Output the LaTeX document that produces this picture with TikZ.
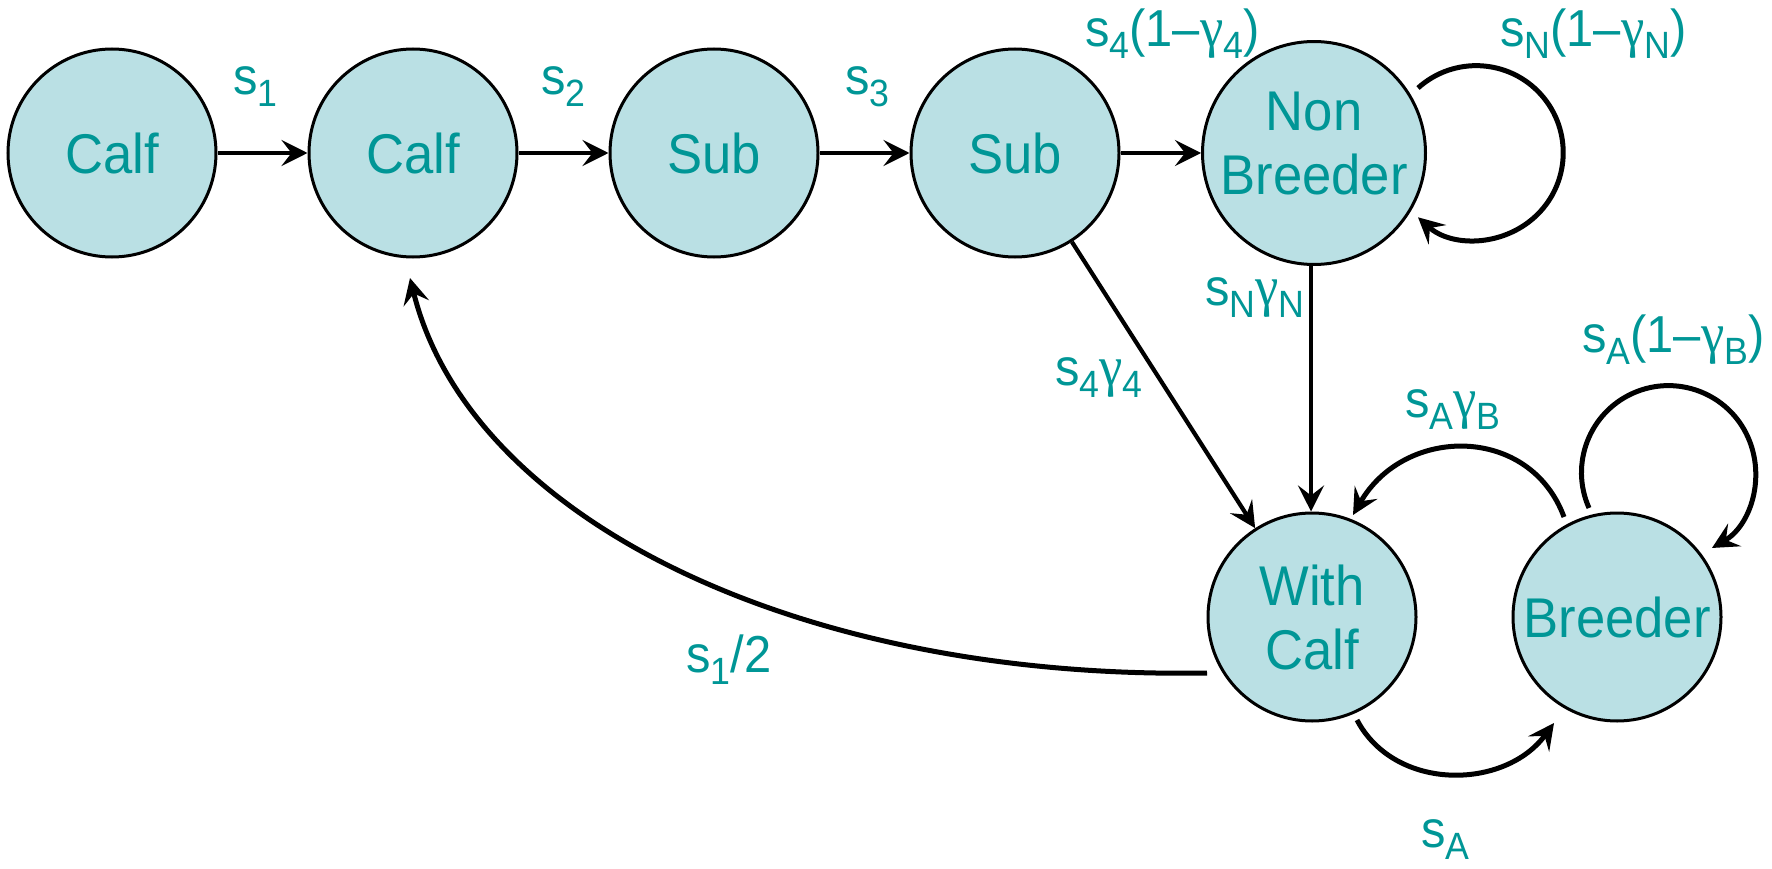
\documentclass[tikz,border=0pt]{standalone}
\usepackage{fontspec}
\setmainfont{Liberation Sans}[FakeStretch=0.94]
\newfontfamily\greekfont{Liberation Serif}[FakeStretch=0.94]
\usetikzlibrary{arrows.meta,calc}
\definecolor{cfill}{RGB}{186,224,228}
\definecolor{cteal}{RGB}{0,150,150}
% lowered, smaller index for the rate labels
\newcommand\lowsub[1]{\raisebox{-12pt}{\fontsize{38}{40}\selectfont #1}}
\newcommand\gam{{\greekfont\fontsize{56}{58}\selectfont γ}}
\begin{document}
\begin{tikzpicture}[x=1pt,y=1pt,
  stage/.style={circle, minimum size=208pt, inner sep=0pt, draw=black,
    line width=3pt, fill=cfill, text=cteal, align=center,
    font=\fontsize{56}{64}\selectfont},
  ratelabel/.style={anchor=base west, inner sep=0pt, text=cteal,
    font=\fontsize{52}{56}\selectfont},
  headtip/.style={-{Stealth[length=26pt,width=26pt,inset=10pt]}},
  flowarrow/.style={headtip, line width=4.2pt},
  curvearrow/.style={headtip, line width=5pt}]
\useasboundingbox (0,0) rectangle (1772,-869);

% life stages
\node[stage] (c1)  at (112,-153)  {Calf};
\node[stage] (c2)  at (413,-153)  {Calf};
\node[stage] (sb1) at (714,-153)  {Sub};
\node[stage] (sb2) at (1015,-153) {Sub};
\node[stage, text depth=20pt] (nb) at (1314,-153) {Non\\Breeder};
\node[stage] (wc)  at (1312,-617) {With\\Calf};
\node[stage] (br)  at (1617,-617) {Breeder};

% transitions along the top row
\draw[flowarrow] (c1) -- (c2);
\draw[flowarrow] (c2) -- (sb1);
\draw[flowarrow] (sb1) -- (sb2);
\draw[flowarrow] (sb2) -- (nb);
\draw[flowarrow] (sb2) -- (wc);
\draw[flowarrow] ($(nb.south)+(-3,0)$) -- ($(wc.north)+(-1,0)$);

% staying a non-breeder
\draw[curvearrow] ($(nb)+(104,65)$) arc[start angle=132, end angle=-132, radius=87];

% recruitment back to calves
\draw[curvearrow] ($(wc)+(-105,-56)$) .. controls (800,-680) and (470,-520) .. ($(c2)+(-3,-125)$);

% with calf -> breeder and back
\draw[curvearrow] ($(wc)+(45,-103)$) .. controls (1395,-792) and (1505,-790) .. ($(br)+(-63,-106)$);
\draw[curvearrow] ($(br)+(-53,100)$) .. controls (1530,-425) and (1405,-425) .. ($(wc)+(41,102)$);

% staying a breeder
\draw[curvearrow] ($(br)+(-28,109)$) arc[start angle=204, end angle=-60, radius=87];

% rate labels
\node[ratelabel] (l1)  at (233,-95)   {s\lowsub{1}};
\node[ratelabel] (l2)  at (541,-95)   {s\lowsub{2}};
\node[ratelabel] (l3)  at (845,-95)   {s\lowsub{3}};
\node[ratelabel] (l4)  at (1085,-47)  {s\lowsub{4}(1–\gam\lowsub{4})};
\node[ratelabel] (lN)  at (1500,-47)  {s\lowsub{N}(1–\gam\lowsub{N})};
\node[ratelabel] (lNg) at (1205,-305) {s\lowsub{N}\gam\lowsub{N}};
\node[ratelabel] (l4g) at (1055,-385) {s\lowsub{4}\gam\lowsub{4}};
\node[ratelabel] (lh)  at (686,-672)  {s\lowsub{1}/2};
\node[ratelabel] (lAg) at (1405,-417) {s\lowsub{A}\gam\lowsub{B}};
\node[ratelabel] (lAB) at (1582,-352) {s\lowsub{A}(1–\gam\lowsub{B})};
\node[ratelabel] (lA)  at (1421,-847) {s\lowsub{A}};
\end{tikzpicture}
\end{document}
